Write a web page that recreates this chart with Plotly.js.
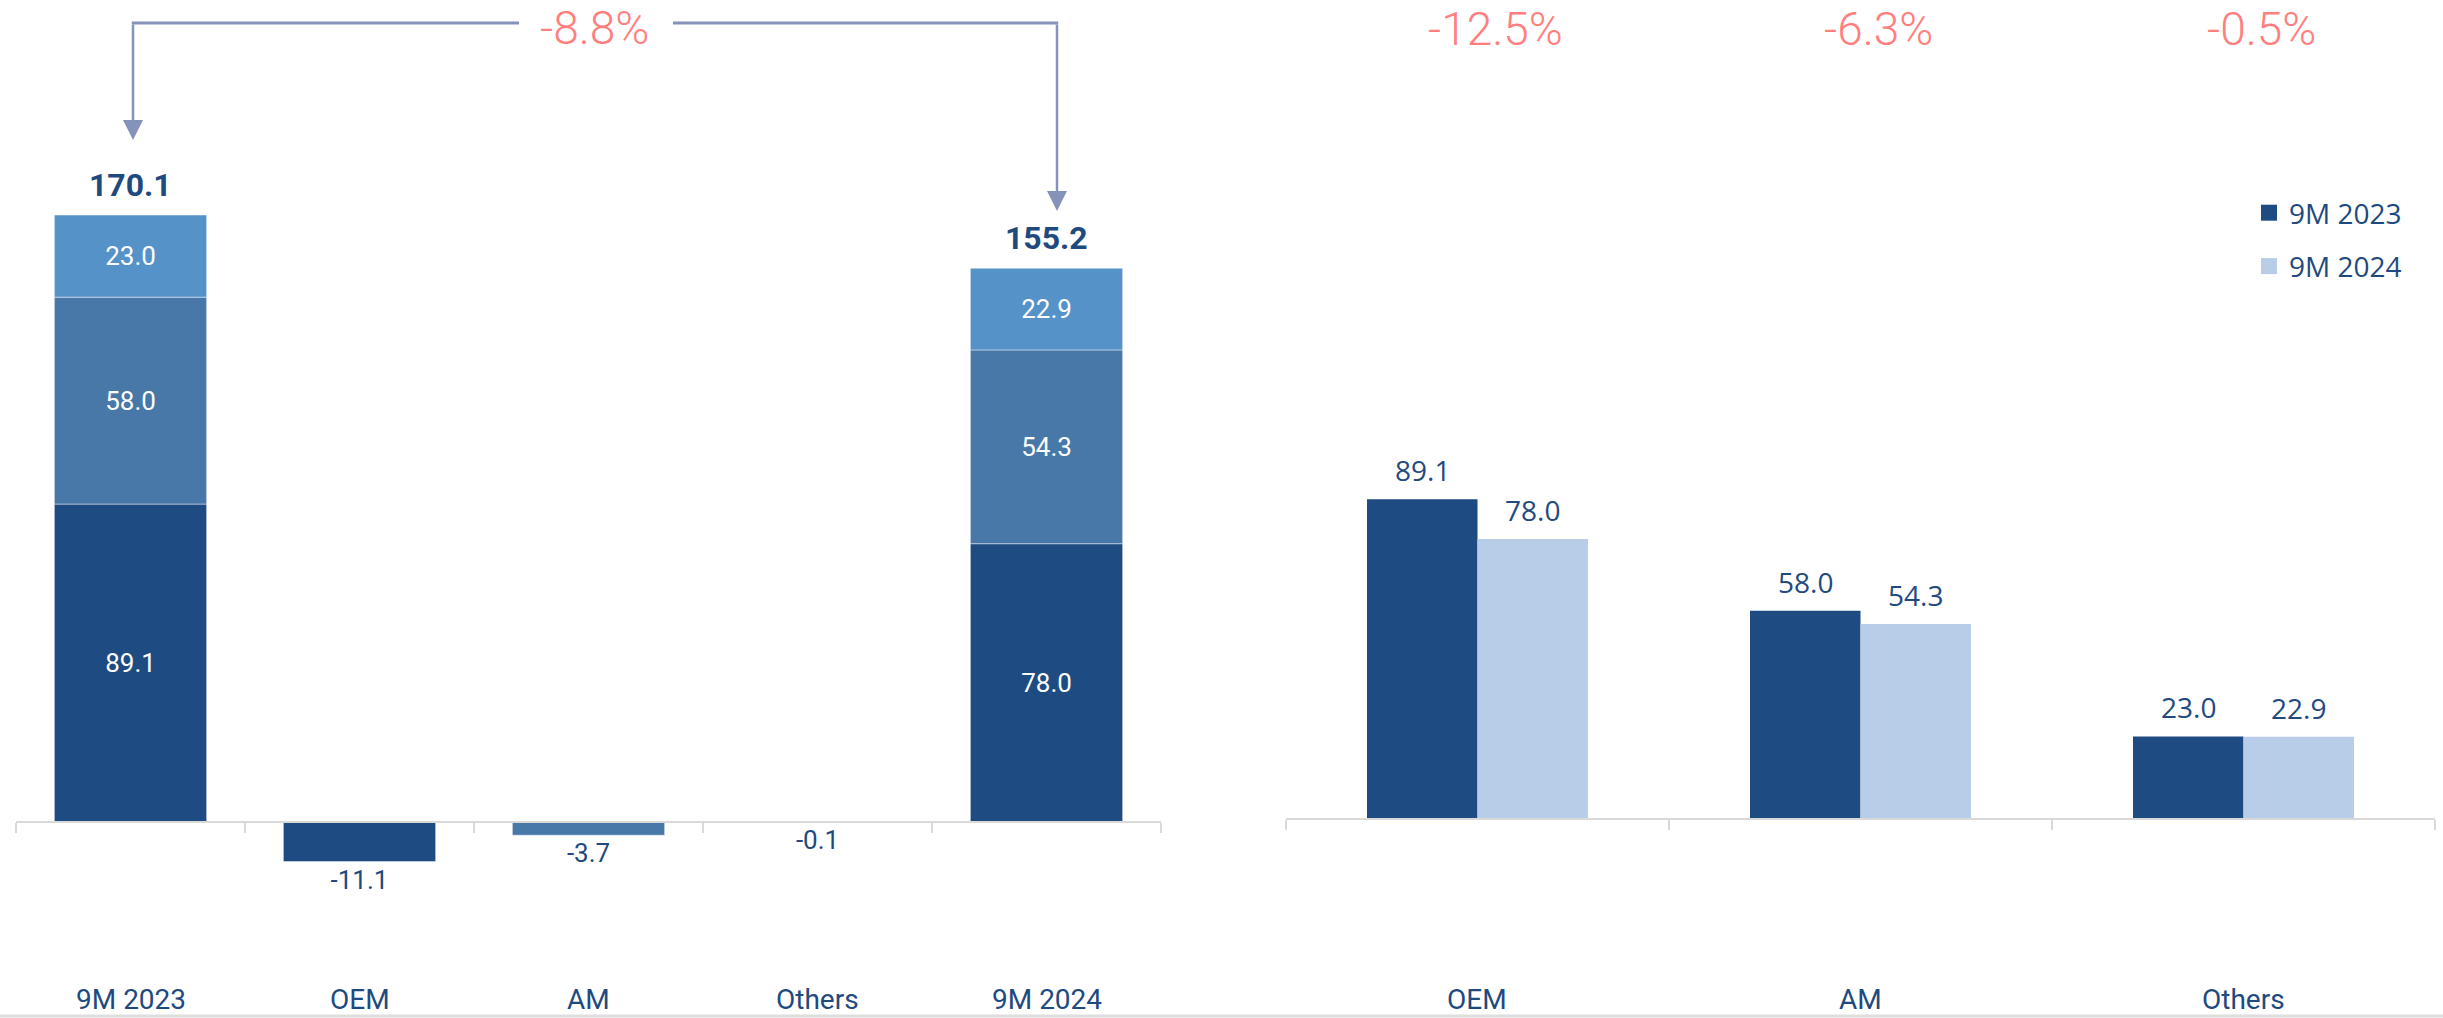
<!DOCTYPE html>
<html>
<head>
<meta charset="utf-8">
<script src="https://cdn.plot.ly/plotly-3.0.1.min.js"></script>
<style>
  html, body { margin: 0; padding: 0; background: #ffffff; }
  #chart { width: 2443px; height: 1018px; }
</style>
</head>
<body>
<div id="chart"></div>
<script>
// ---------- data ----------
const wfCategories = ['9M 2023', 'OEM', 'AM', 'Others', '9M 2024'];
const periods = ['9M 2023', '9M 2024'];
const oemValues = [89.1, 78.0];
const amValues = [58.0, 54.3];
const othersValues = [23.0, 22.9];
const totalValues = [170.1, 155.2];
const changeCategories = ['OEM', 'AM', 'Others'];
const changeValues = [-11.1, -3.7, -0.1];
const segments = ['OEM', 'AM', 'Others'];
const seg2023 = [89.1, 58.0, 23.0];
const seg2024 = [78.0, 54.3, 22.9];
const seriesNames = ['9M 2023', '9M 2024'];
const totalChangeLabel = '-8.8%';
const segmentChangeLabels = ['-12.5%', '-6.3%', '-0.5%'];

// ---------- style ----------
const W = 2443, H = 1018;
const DARK = '#1E4B82', MID = '#4878A8', LIGHT = '#5592C8', PALE = '#B8CDE8';
const NAVY = '#1F4A7F', PINK = '#FF7F7F', ARROW = '#8593BB', AXIS = '#D9D9D9';
const fmt = v => v.toFixed(1);
const px = v => v / W;
const py = v => 1 - v / H;

const edge = { color: 'rgba(255,255,255,0.45)', width: 1 };
const inFont = { family: 'Roboto', size: 26, color: '#ffffff' };
const outFont = { family: 'Roboto', size: 26, color: NAVY };
const BAR_W = 0.2885;

const amBase = oemValues.slice();
const othersBase = oemValues.map((v, i) => v + amValues[i]);

const traces = [
  { type: 'bar', x: periods, y: oemValues, base: [0, 0], width: 0.665,
    marker: { color: DARK, line: edge }, text: oemValues.map(fmt),
    textposition: 'inside', insidetextanchor: 'middle', textfont: inFont,
    constraintext: 'none', textangle: 0, showlegend: false, hoverinfo: 'skip',
    xaxis: 'x', yaxis: 'y' },
  { type: 'bar', x: periods, y: amValues, base: amBase, width: 0.665,
    marker: { color: MID, line: edge }, text: amValues.map(fmt),
    textposition: 'inside', insidetextanchor: 'middle', textfont: inFont,
    constraintext: 'none', textangle: 0, showlegend: false, hoverinfo: 'skip',
    xaxis: 'x', yaxis: 'y' },
  { type: 'bar', x: periods, y: othersValues, base: othersBase, width: 0.665,
    marker: { color: LIGHT, line: edge }, text: othersValues.map(fmt),
    textposition: 'inside', insidetextanchor: 'middle', textfont: inFont,
    constraintext: 'none', textangle: 0, showlegend: false, hoverinfo: 'skip',
    xaxis: 'x', yaxis: 'y' },
  { type: 'bar', x: changeCategories, y: changeValues, base: [0, 0, 0], width: 0.665,
    marker: { color: [DARK, MID, LIGHT], line: edge }, text: changeValues.map(fmt),
    textposition: 'outside', textfont: outFont, cliponaxis: false,
    constraintext: 'none', textangle: 0, showlegend: false, hoverinfo: 'skip',
    xaxis: 'x', yaxis: 'y' },
  { type: 'bar', name: seriesNames[0], x: segments, y: seg2023, width: BAR_W, offset: -BAR_W,
    marker: { color: DARK }, showlegend: false, hoverinfo: 'skip',
    xaxis: 'x2', yaxis: 'y2' },
  { type: 'bar', name: seriesNames[1], x: segments, y: seg2024, width: BAR_W, offset: 0,
    marker: { color: PALE }, showlegend: false, hoverinfo: 'skip',
    xaxis: 'x2', yaxis: 'y2' },
  // legend entries (square symbols)
  { type: 'scatter', mode: 'markers', name: seriesNames[0], x: [null], y: [null],
    marker: { symbol: 'square', size: 17, color: DARK }, legendgroup: 'a',
    xaxis: 'x2', yaxis: 'y2', hoverinfo: 'skip' },
  { type: 'scatter', mode: 'markers', name: seriesNames[1], x: [null], y: [null],
    marker: { symbol: 'square', size: 17, color: PALE }, legendgroup: 'b',
    xaxis: 'x2', yaxis: 'y2', hoverinfo: 'skip' }
];

// zero lines: left at 822px, right at 819px
const sL = 3.568, zL = 822;
const sR = 3.59, zR = 819;

const annotations = [];
// totals
periods.forEach((p, i) => annotations.push({
  xref: 'x', yref: 'y', x: p, y: totalValues[i], yshift: 30, yanchor: 'middle',
  text: '<b>' + fmt(totalValues[i]) + '</b>', showarrow: false,
  font: { family: 'Roboto', size: 32, color: NAVY }
}));
// right-chart value labels
[seg2023, seg2024].forEach((arr, k) => arr.forEach((v, i) => annotations.push({
  xref: 'x2', yref: 'y2', x: i + (k === 0 ? -BAR_W / 2 : BAR_W / 2), y: v,
  yshift: 29, yanchor: 'middle', text: fmt(v), showarrow: false,
  font: { family: 'Open Sans', size: 28, color: NAVY }
})));
// category labels
wfCategories.forEach(c => annotations.push({
  xref: 'x', yref: 'paper', x: c, y: py(999), yanchor: 'middle',
  text: c, showarrow: false, font: { family: 'Roboto', size: 28, color: NAVY }
}));
segments.forEach(c => annotations.push({
  xref: 'x2', yref: 'paper', x: c, y: py(999), yanchor: 'middle',
  text: c, showarrow: false, font: { family: 'Roboto', size: 28, color: NAVY }
}));
// change labels
annotations.push({
  xref: 'paper', yref: 'paper', x: px(594), y: py(28), xanchor: 'center', yanchor: 'middle',
  text: totalChangeLabel, showarrow: false,
  font: { family: 'Roboto', size: 46, weight: 300, color: PINK }
});
segments.forEach((c, i) => annotations.push({
  xref: 'x2', yref: 'paper', x: c, xshift: 18, y: py(29), yanchor: 'middle',
  text: segmentChangeLabels[i], showarrow: false,
  font: { family: 'Roboto', size: 46, weight: 300, color: PINK }
}));
// bracket arrows
[[133, 140], [1057, 211]].forEach(([ax, tip]) => annotations.push({
  xref: 'paper', yref: 'paper', x: px(ax), y: py(tip), ax: 0, ay: -(tip - 23),
  text: '', showarrow: true, arrowhead: 2, arrowsize: 1.6, arrowwidth: 2.5,
  arrowcolor: ARROW, standoff: 0, startstandoff: 0
}));

const shapes = [
  { type: 'line', xref: 'paper', yref: 'paper', x0: px(131.8), x1: px(519), y0: py(23), y1: py(23),
    line: { color: ARROW, width: 3 } },
  { type: 'line', xref: 'paper', yref: 'paper', x0: px(673), x1: px(1058.2), y0: py(23), y1: py(23),
    line: { color: ARROW, width: 3 } },
  { type: 'line', xref: 'paper', yref: 'paper', x0: 0, x1: 1, y0: py(1016), y1: py(1016),
    line: { color: '#DEDEDE', width: 3 } }
];

const xCommon = {
  type: 'category', anchor: 'free', showline: true, linecolor: AXIS, linewidth: 2,
  ticks: 'outside', tickson: 'boundaries', ticklen: 10, tickwidth: 2, tickcolor: AXIS,
  showticklabels: false, showgrid: false, zeroline: false, fixedrange: true
};
const yCommon = { showgrid: false, zeroline: false, showticklabels: false, showline: false,
  ticks: '', fixedrange: true, domain: [0, 1] };

const layout = {
  width: W, height: H,
  margin: { l: 0, r: 0, t: 0, b: 0, pad: 0 },
  paper_bgcolor: '#ffffff', plot_bgcolor: '#ffffff',
  barmode: 'overlay',
  showlegend: true,
  legend: {
    x: px(2249), y: py(188), xanchor: 'left', yanchor: 'top',
    font: { family: 'Open Sans', size: 28, color: NAVY },
    traceorder: 'grouped', tracegroupgap: 14, itemwidth: 30, bgcolor: 'rgba(0,0,0,0)'
  },
  xaxis: Object.assign({}, xCommon, {
    domain: [px(16), px(1161)], range: [-0.5, 4.5],
    categoryorder: 'array', categoryarray: wfCategories,
    position: (H - zL) / H
  }),
  yaxis: Object.assign({}, yCommon, { anchor: 'x', range: [-(H - zL) / sL, zL / sL] }),
  xaxis2: Object.assign({}, xCommon, {
    domain: [px(1286), px(2435)], range: [-0.5, 2.5],
    categoryorder: 'array', categoryarray: segments,
    position: (H - zR) / H
  }),
  yaxis2: Object.assign({}, yCommon, { anchor: 'x2', range: [-(H - zR) / sR, zR / sR] }),
  annotations: annotations,
  shapes: shapes
};

Plotly.newPlot('chart', traces, layout, { displayModeBar: false, staticPlot: true });
</script>
</body>
</html>
